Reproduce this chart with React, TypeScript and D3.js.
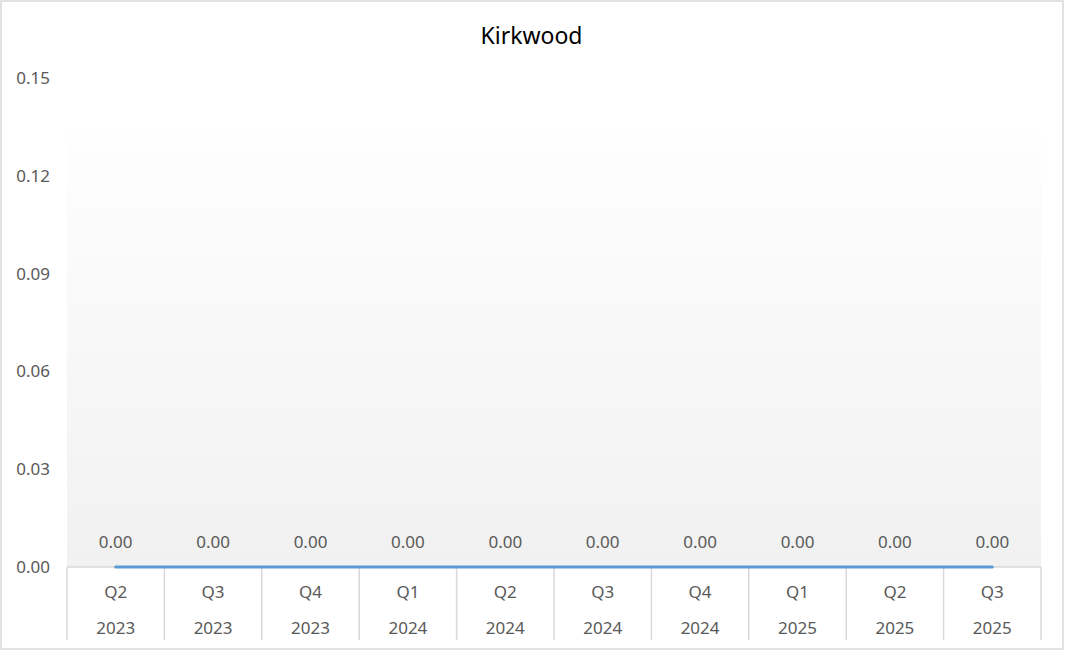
import React, { useEffect, useRef } from "react";
import * as d3 from "d3";

const quarters = ["Q2", "Q3", "Q4", "Q1", "Q2", "Q3", "Q4", "Q1", "Q2", "Q3"];
const years = ["2023", "2023", "2023", "2024", "2024", "2024", "2024", "2025", "2025", "2025"];
const values = [0, 0, 0, 0, 0, 0, 0, 0, 0, 0];
const yTicks = [0, 0.03, 0.06, 0.09, 0.12, 0.15];

export default function App() {
  const svgRef = useRef<SVGSVGElement>(null);

  useEffect(() => {
    if (!svgRef.current) return;
    document.body.style.margin = "0";

    const svg = d3.select(svgRef.current);
    svg.selectAll("*").remove();

    const width = 1065;
    const height = 651;
    const margin = { top: 78, right: 24, bottom: 84, left: 67 };
    const font = "'Segoe UI', 'Noto Sans', 'Open Sans', sans-serif";

    const keys = values.map((_, i) => String(i));
    const x = d3.scaleBand().domain(keys).range([margin.left, width - margin.right]);
    const y = d3.scaleLinear().domain([0, 0.15]).range([height - margin.bottom, margin.top]);

    // chart frame
    svg.append("rect")
      .attr("x", 1).attr("y", 1)
      .attr("width", width - 3).attr("height", height - 3)
      .attr("fill", "#fff")
      .attr("stroke", "#d9d9d9")
      .attr("stroke-width", 1.5);

    // plot area gradient
    const defs = svg.append("defs");
    const grad = defs.append("linearGradient")
      .attr("id", "plotGrad")
      .attr("x1", 0).attr("y1", 0).attr("x2", 0).attr("y2", 1);
    grad.append("stop").attr("offset", "0%").attr("stop-color", "#fefefe");
    grad.append("stop").attr("offset", "100%").attr("stop-color", "#f1f1f1");

    const plotTop = 133;
    svg.append("rect")
      .attr("x", margin.left)
      .attr("y", plotTop)
      .attr("width", width - margin.right - margin.left)
      .attr("height", y(0) - plotTop)
      .attr("fill", "url(#plotGrad)");

    // title
    svg.append("text")
      .attr("x", width / 2 - 1)
      .attr("y", 44)
      .attr("text-anchor", "middle")
      .attr("font-family", font)
      .attr("font-size", "23px")
      .attr("fill", "#000")
      .text("Kirkwood");

    // y tick labels
    svg.append("g")
      .selectAll("text")
      .data(yTicks)
      .enter()
      .append("text")
      .attr("x", 50)
      .attr("y", d => y(d))
      .attr("dy", "0.35em")
      .attr("text-anchor", "end")
      .attr("font-family", font)
      .attr("font-size", "17px")
      .attr("fill", "#595959")
      .text(d => d.toFixed(2));

    // category axis line and separators
    const axisY = y(0);
    const axis = svg.append("g").attr("stroke", "#d9d9d9").attr("stroke-width", 1.5);
    axis.append("line")
      .attr("x1", margin.left).attr("x2", width - margin.right)
      .attr("y1", axisY).attr("y2", axisY);
    const bounds = keys.map(k => x(k) as number).concat([width - margin.right]);
    axis.selectAll("line.sep")
      .data(bounds)
      .enter()
      .append("line")
      .attr("class", "sep")
      .attr("x1", d => d).attr("x2", d => d)
      .attr("y1", axisY).attr("y2", 640);

    const cx = (i: number) => (x(String(i)) as number) + x.bandwidth() / 2;

    // category labels (two levels)
    const labels = svg.append("g")
      .attr("font-family", font)
      .attr("font-size", "17px")
      .attr("fill", "#595959")
      .attr("text-anchor", "middle");
    labels.selectAll("text.q")
      .data(quarters)
      .enter()
      .append("text")
      .attr("class", "q")
      .attr("x", (_, i) => cx(i))
      .attr("y", 598)
      .text(d => d);
    labels.selectAll("text.yr")
      .data(years)
      .enter()
      .append("text")
      .attr("class", "yr")
      .attr("x", (_, i) => cx(i))
      .attr("y", 634)
      .text(d => d);

    // series line
    const line = d3.line<number>()
      .x((_, i) => cx(i))
      .y(d => y(d));
    svg.append("path")
      .datum(values)
      .attr("d", line)
      .attr("fill", "none")
      .attr("stroke", "#5b9bd5")
      .attr("stroke-width", 3)
      .attr("stroke-linecap", "round");

    // data labels
    svg.append("g")
      .selectAll("text")
      .data(values)
      .enter()
      .append("text")
      .attr("x", (_, i) => cx(i))
      .attr("y", d => y(d) - 19)
      .attr("text-anchor", "middle")
      .attr("font-family", font)
      .attr("font-size", "17px")
      .attr("fill", "#595959")
      .text(d => d.toFixed(2));
  }, []);

  return (
    <svg
      ref={svgRef}
      width={1065}
      height={651}
      viewBox="0 0 1065 651"
      style={{ display: "block" }}
    />
  );
}
